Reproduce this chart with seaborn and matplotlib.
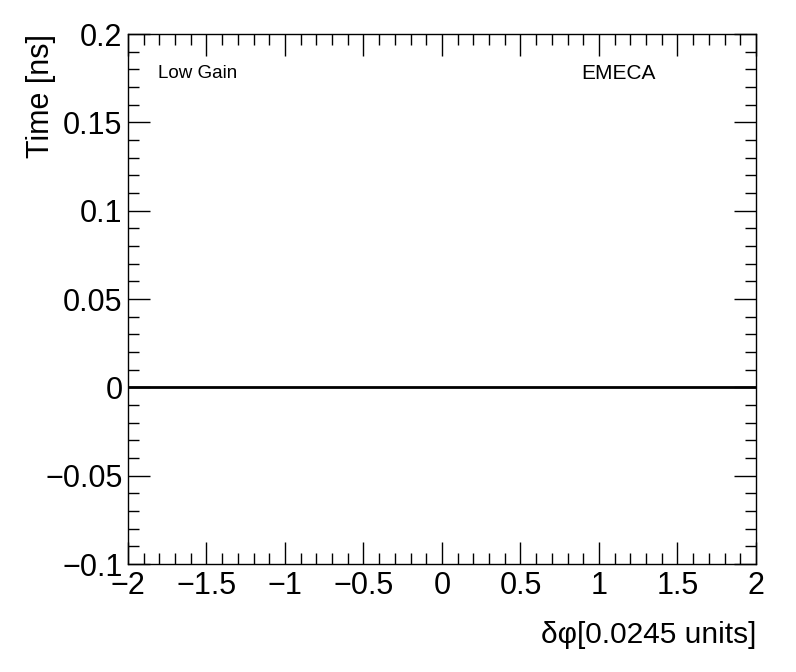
import numpy as np
import matplotlib
matplotlib.use('Agg')
import matplotlib.pyplot as plt
import seaborn as sns
from matplotlib.ticker import MultipleLocator, FuncFormatter

# timing offset vs delta phi, all zero here
delta_phi = [-2.0, -1.5, -1.0, -0.5, 0.0, 0.5, 1.0, 1.5, 2.0]
time_ns = [0.0, 0.0, 0.0, 0.0, 0.0, 0.0, 0.0, 0.0, 0.0]
gain_label = 'Low Gain'
partition = 'EMECA'

sns.set_style('ticks')
plt.rcParams['font.family'] = ['Liberation Sans', 'DejaVu Sans']
plt.rcParams['text.color'] = 'black'
plt.rcParams['axes.labelcolor'] = 'black'
plt.rcParams['xtick.color'] = 'black'
plt.rcParams['ytick.color'] = 'black'

fig = plt.figure(figsize=(7.96, 6.72), dpi=100)
ax = fig.add_axes([0.1608, 0.1607, 0.7889, 0.7887])

sns.lineplot(x=delta_phi, y=time_ns, ax=ax, color='black', linewidth=2)

ax.set_xlim(-2, 2)
ax.set_ylim(-0.1, 0.2)

ax.xaxis.set_major_locator(MultipleLocator(0.5))
ax.xaxis.set_minor_locator(MultipleLocator(0.1))
ax.yaxis.set_major_locator(MultipleLocator(0.05))
ax.yaxis.set_minor_locator(MultipleLocator(0.01))

fmt = FuncFormatter(lambda v, p: ('%g' % round(v, 4)).replace('-', '\u2212'))
ax.xaxis.set_major_formatter(fmt)
ax.yaxis.set_major_formatter(fmt)

ax.tick_params(which='both', direction='in', top=True, right=True,
               width=1, color='black', labelcolor='black', labelsize=22)
ax.tick_params(which='major', length=16)
ax.tick_params(which='minor', length=8)
ax.tick_params(axis='x', which='major', pad=5)
ax.tick_params(axis='y', which='major', pad=4)

for s in ax.spines.values():
    s.set_color('black')
    s.set_linewidth(1)

ax.set_xlabel('\u03b4\u03c6[0.0245 units]', fontsize=21.5)
ax.xaxis.set_label_coords(1.0, -0.107)
ax.xaxis.label.set_horizontalalignment('right')
ax.set_ylabel('Time [ns]', fontsize=22)
ax.yaxis.set_label_coords(-0.114, 1.0)
ax.yaxis.label.set_horizontalalignment('right')

ax.text(0.048, 0.925, gain_label, transform=ax.transAxes, fontsize=13.5,
        ha='left', va='center')
ax.text(0.722, 0.925, partition, transform=ax.transAxes, fontsize=15,
        ha='left', va='center')

fig.savefig('out.png', dpi=100)
